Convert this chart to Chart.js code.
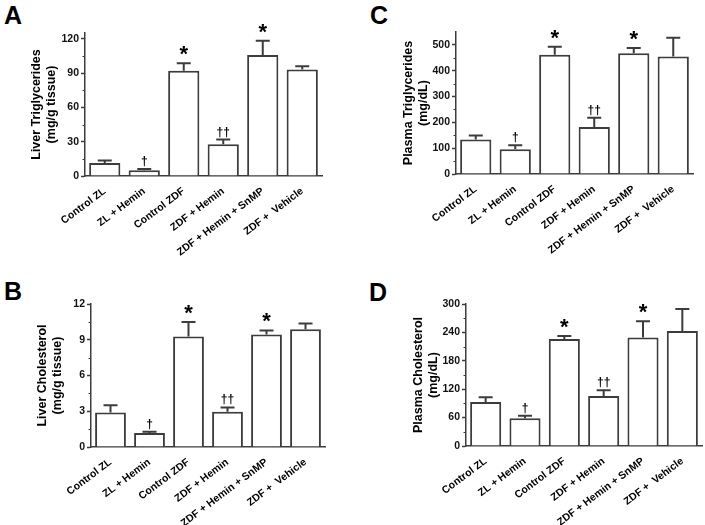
<!DOCTYPE html>
<html>
<head>
<meta charset="utf-8">
<script src="https://cdn.jsdelivr.net/npm/chart.js@4.4.0/dist/chart.umd.min.js"></script>
<style>
  body { margin: 0; background: #fff; width: 705px; height: 525px; position: relative; overflow: hidden; }
  .panel { position: absolute; }
  .letter { position: absolute; font: bold 25px "Liberation Sans", Arial, sans-serif; color: #000; }
</style>
</head>
<body>
<div class="letter" style="left:4px;top:1px">A</div>
<div class="letter" style="left:370px;top:1px">C</div>
<div class="letter" style="left:4px;top:277px">B</div>
<div class="letter" style="left:369px;top:278px">D</div>
<div class="panel" style="left:0;top:0;width:350px;height:260px"><canvas id="chartA"></canvas></div>
<div class="panel" style="left:352px;top:0;width:353px;height:260px"><canvas id="chartC"></canvas></div>
<div class="panel" style="left:0;top:262px;width:350px;height:263px"><canvas id="chartB"></canvas></div>
<div class="panel" style="left:352px;top:262px;width:353px;height:263px"><canvas id="chartD"></canvas></div>
<script>
const groups = ['Control ZL', 'ZL + Hemin', 'Control ZDF', 'ZDF + Hemin', 'ZDF + Hemin + SnMP', 'ZDF +  Vehicle'];
const marks = ['', '†', '*', '††', '*', ''];

// A: liver triglycerides (mg/g tissue)
const liverTG = [11.4, 5.0, 91.9, 27.8, 105.7, 93.1];
const liverTGsem = [2.1, 1.1, 6.7, 4.1, 12.5, 2.9];
// B: liver cholesterol (mg/g tissue)
const liverChol = [2.89, 1.18, 9.27, 2.95, 9.44, 9.89];
const liverCholSem = [0.62, 0.11, 1.21, 0.37, 0.34, 0.48];
// C: plasma triglycerides (mg/dL)
const plasmaTG = [134, 96, 462, 182, 468, 455];
const plasmaTGsem = [15, 15, 31, 36, 20, 73];
// D: plasma cholesterol (mg/dL)
const plasmaChol = [93, 58.5, 226, 105.6, 229, 243];
const plasmaCholSem = [10, 5.5, 6.5, 12, 34.5, 46.5];

const FONT = '"Liberation Sans", Arial, sans-serif';
const LINE = '#3c3c3c';

// error bars, significance marks and minor ticks
const extras = {
  id: 'extras',
  afterDatasetsDraw(chart, args, o) {
    const ctx = chart.ctx, y = chart.scales.y, area = chart.chartArea;
    const meta = chart.getDatasetMeta(0);
    ctx.save();
    ctx.strokeStyle = LINE;
    ctx.lineWidth = 2;
    meta.data.forEach((bar, i) => {
      const top = y.getPixelForValue(o.values[i] + o.sem[i]);
      ctx.beginPath();
      ctx.moveTo(bar.x, bar.y);
      ctx.lineTo(bar.x, top);
      ctx.moveTo(bar.x - 7, top);
      ctx.lineTo(bar.x + 7, top);
      ctx.stroke();
      const m = marks[i];
      if (m) {
        ctx.fillStyle = '#000';
        ctx.textAlign = 'center';
        ctx.textBaseline = 'alphabetic';
        if (m === '*') {
          ctx.font = 'bold 22px ' + FONT;
          ctx.fillText(m, bar.x, top - 2);
        } else {
          ctx.font = 'bold 12px ' + FONT;
          ctx.fillText(m, bar.x, top - 4);
        }
      }
    });
    // minor ticks halfway between labelled ticks
    ctx.lineWidth = 1;
    for (let v = o.step / 2; v < o.top; v += o.step) {
      const py = Math.round(y.getPixelForValue(v)) + 0.5;
      ctx.beginPath();
      ctx.moveTo(area.left - 2.5, py);
      ctx.lineTo(area.left, py);
      ctx.stroke();
    }
    ctx.restore();
  }
};

function makePanel(id, values, sem, title, max, step, box) {
  new Chart(document.getElementById(id), {
    type: 'bar',
    data: {
      labels: groups,
      datasets: [{
        data: values,
        backgroundColor: '#ffffff',
        borderColor: LINE,
        borderWidth: 2,
        barPercentage: 0.79,
        categoryPercentage: 1
      }]
    },
    options: {
      responsive: true,
      maintainAspectRatio: false,
      animation: false,
      layout: { padding: { top: box.top, right: box.right, left: box.left, bottom: 0 } },
      plugins: {
        legend: { display: false },
        tooltip: { enabled: false },
        extras: { values: values, sem: sem, step: step, top: max }
      },
      scales: {
        x: {
          grid: { display: false },
          border: { display: true, color: LINE, width: 1.5 },
          ticks: {
            color: '#000',
            font: { family: FONT, size: 10.5, weight: 'bold' },
            minRotation: 37, maxRotation: 37, autoSkip: false, padding: 1
          },
          afterFit: s => { s.height = box.xh; }
        },
        y: {
          min: 0,
          max: max,
          border: { display: true, color: LINE, width: 1.5 },
          grid: { display: true, drawOnChartArea: false, drawTicks: true, tickLength: 4, tickColor: LINE, tickWidth: 1.5 },
          ticks: {
            stepSize: step,
            color: '#111',
            padding: 2,
            font: { family: FONT, size: 10.5, weight: 'bold' }
          },
          afterBuildTicks: s => {
            const t = [];
            for (let v = 0; v <= max + 1e-9; v += step) t.push({ value: v });
            s.ticks = t;
          },
          title: {
            display: true,
            text: title,
            color: '#000',
            font: { family: FONT, size: 12.5, weight: 'bold', lineHeight: 1.2 },
            padding: { top: 0, bottom: 0 }
          },
          afterFit: s => { s.width = box.yw; }
        }
      }
    },
    plugins: [extras]
  });
}

makePanel('chartA', liverTG, liverTGsem, ['Liver Triglycerides', '(mg/g tissue)'], 125, 30,
  { left: 29.5, top: 33, right: 28, xh: 84, yw: 55.5 });
makePanel('chartC', plasmaTG, plasmaTGsem, ['Plasma Triglycerides', '(mg/dL)'], 550, 100,
  { left: 49.5, top: 32, right: 12, xh: 86, yw: 54.5 });
makePanel('chartB', liverChol, liverCholSem, ['Liver Cholesterol', '(mg/g tissue)'], 12, 3,
  { left: 35.5, top: 42, right: 25, xh: 78, yw: 55.5 });
makePanel('chartD', plasmaChol, plasmaCholSem, ['Plasma Cholesterol', '(mg/dL)'], 300, 60,
  { left: 59.5, top: 42, right: 3, xh: 79, yw: 54.5 });
</script>
</body>
</html>
